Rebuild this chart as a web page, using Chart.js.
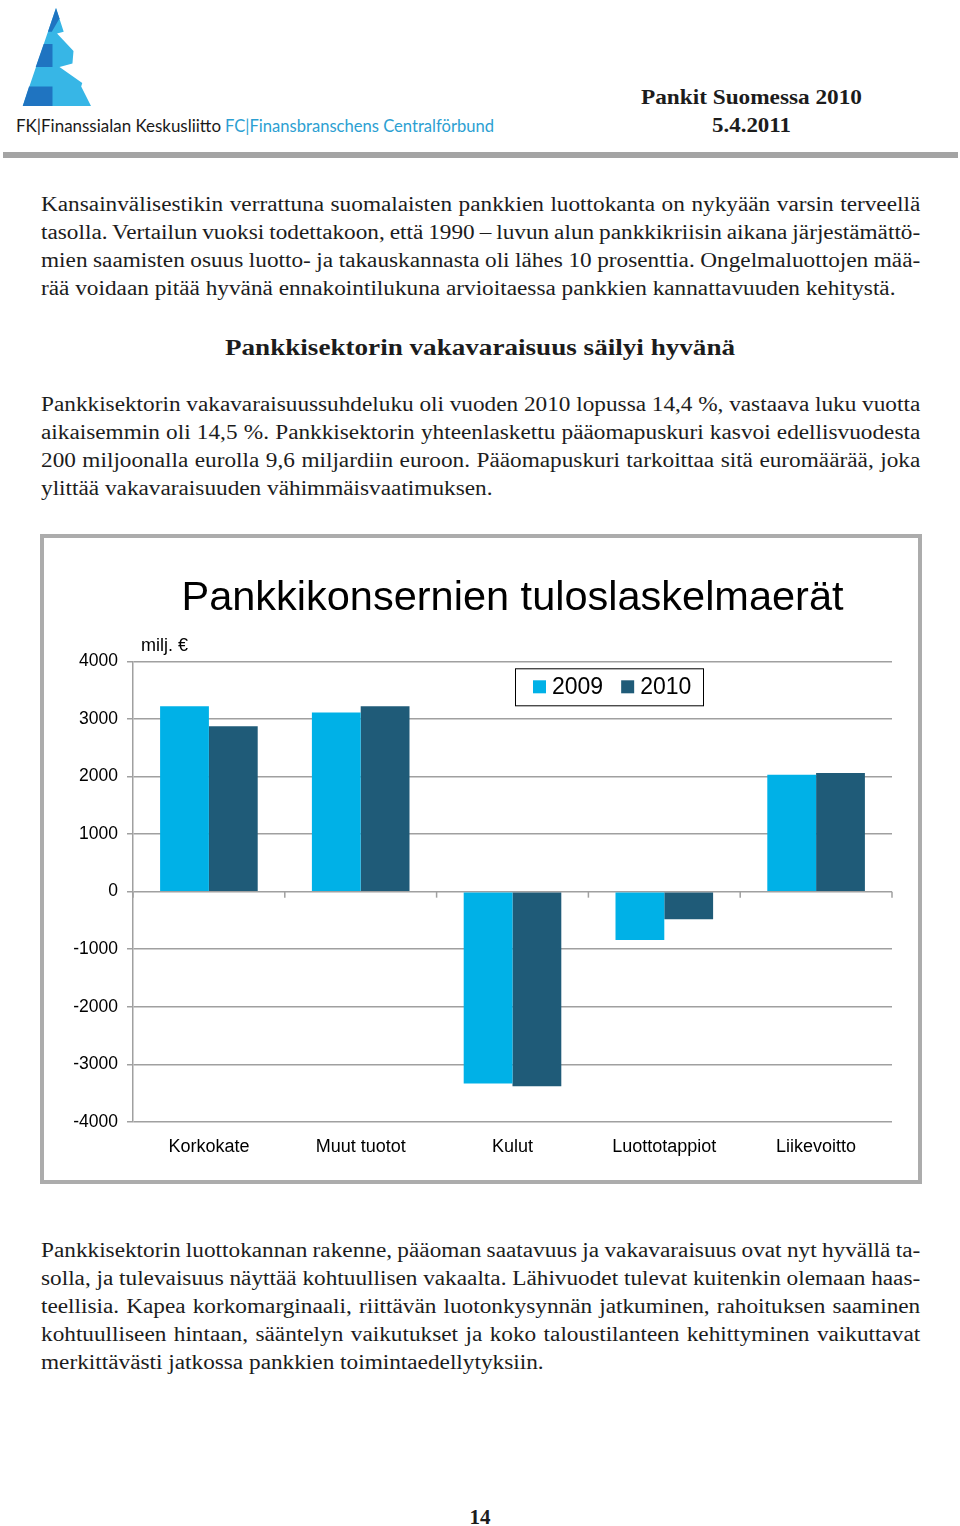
<!DOCTYPE html>
<html><head><meta charset="utf-8">
<script src="https://cdn.jsdelivr.net/npm/chart.js@4.4.1/dist/chart.umd.min.js"></script>
<style>
html,body{margin:0;padding:0;background:#fff;}
body{width:960px;height:1526px;position:relative;overflow:hidden;font-family:'Liberation Serif','Times New Roman',serif;color:#1c1c1c;}
.ln{position:absolute;left:41px;width:756px;height:28px;line-height:28px;font-size:20px;white-space:nowrap;transform:scaleX(1.163);transform-origin:0 0;}
.j{text-align:justify;text-align-last:justify;word-spacing:-2.5px;}
.h2{position:absolute;left:0;width:960px;text-align:center;font-weight:bold;font-size:24px;line-height:30px;transform:scaleX(1.13);transform-origin:480px 0;}
#bar{position:absolute;left:3px;top:152px;width:955px;height:6px;background:#a4a4a4;}
#box{position:absolute;left:40px;top:534px;width:874px;height:642px;border:4px solid #acacac;background:#fff;}
#c{position:absolute;left:0;top:0;}
.pg{position:absolute;left:0;width:960px;text-align:center;font-weight:bold;font-size:21px;top:1504px;line-height:26px;}
</style></head>
<body>
<svg width="960" height="150" style="position:absolute;left:0;top:0">
  <g transform="translate(7,-2) scale(0.35,0.354)">
    <polygon fill="#37b6e6" points="140,28 162,95 143,100 190,150 187,185 150,195 215,240 212,250 240,305 45,305"/>
    <polygon fill="#1f74c1" points="140,28 150,58 128,95 117,95"/>
    <polygon fill="#1f74c1" points="105,130 130,130 130,195 82,195"/>
    <polygon fill="#1f74c1" points="63,250 130,250 130,305 45,305"/>
  </g>
  <text x="16" y="132" font-family="Lato, 'Open Sans', sans-serif" font-size="16.5" fill="#1a1a1a" textLength="205" lengthAdjust="spacingAndGlyphs">FK|Finanssialan Keskusliitto</text>
  <text x="225" y="132" font-family="Lato, 'Open Sans', sans-serif" font-size="16.5" fill="#2c9fd2" textLength="269" lengthAdjust="spacingAndGlyphs">FC|Finansbranschens Centralförbund</text>
  <text x="641" y="104" font-family="'Liberation Serif', serif" font-weight="bold" font-size="22" fill="#1c1c1c" textLength="221" lengthAdjust="spacingAndGlyphs">Pankit Suomessa 2010</text>
  <text x="712" y="132" font-family="'Liberation Serif', serif" font-weight="bold" font-size="22" fill="#1c1c1c" textLength="79" lengthAdjust="spacingAndGlyphs">5.4.2011</text>
</svg>
<div id="bar"></div>

<div class="ln j" style="top:190px">Kansainvälisestikin verrattuna suomalaisten pankkien luottokanta on nykyään varsin terveellä</div>
<div class="ln j" style="top:218px">tasolla. Vertailun vuoksi todettakoon, että 1990 – luvun alun pankkikriisin aikana järjestämättö-</div>
<div class="ln j" style="top:246px">mien saamisten osuus luotto- ja takauskannasta oli lähes 10 prosenttia. Ongelmaluottojen mää-</div>
<div class="ln" style="top:274px">rää voidaan pitää hyvänä ennakointilukuna arvioitaessa pankkien kannattavuuden kehitystä.</div>

<div class="h2" style="top:332px">Pankkisektorin vakavaraisuus säilyi hyvänä</div>

<div class="ln j" style="top:390px">Pankkisektorin vakavaraisuussuhdeluku oli vuoden 2010 lopussa 14,4 %, vastaava luku vuotta</div>
<div class="ln j" style="top:418px">aikaisemmin oli 14,5 %. Pankkisektorin yhteenlaskettu pääomapuskuri kasvoi edellisvuodesta</div>
<div class="ln j" style="top:446px">200 miljoonalla eurolla 9,6 miljardiin euroon. Pääomapuskuri tarkoittaa sitä euromäärää, joka</div>
<div class="ln" style="top:474px">ylittää vakavaraisuuden vähimmäisvaatimuksen.</div>

<div id="box"><canvas id="c" width="874" height="642"></canvas></div>

<div class="ln j" style="top:1236px">Pankkisektorin luottokannan rakenne, pääoman saatavuus ja vakavaraisuus ovat nyt hyvällä ta-</div>
<div class="ln j" style="top:1264px">solla, ja tulevaisuus näyttää kohtuullisen vakaalta. Lähivuodet tulevat kuitenkin olemaan haas-</div>
<div class="ln j" style="top:1292px">teellisia. Kapea korkomarginaali, riittävän luotonkysynnän jatkuminen, rahoituksen saaminen</div>
<div class="ln j" style="top:1320px">kohtuulliseen hintaan, sääntelyn vaikutukset ja koko taloustilanteen kehittyminen vaikuttavat</div>
<div class="ln" style="top:1348px">merkittävästi jatkossa pankkien toimintaedellytyksiin.</div>

<div class="pg">14</div>

<script>
const categories = ['Korkokate', 'Muut tuotot', 'Kulut', 'Luottotappiot', 'Liikevoitto'];
const values2009 = [3220, 3110, -3330, -840, 2030];
const values2010 = [2870, 3220, -3380, -480, 2060];
const seriesNames = ['2009', '2010'];
const seriesColors = ['#00b1e7', '#1f5b78'];
const yMin = -4000, yMax = 4000, yStep = 1000;
const chartTitle = 'Pankkikonsernien tuloslaskelmaerät';
const unitLabel = 'milj. €';

const FONT = "'Liberation Sans', Arial, sans-serif";
const GRID = '#a0a0a0';

const extras = {
  id: 'extras',
  beforeDatasetsDraw(chart) {
    const { ctx, chartArea, scales: { x, y } } = chart;
    const y0 = y.getPixelForValue(0);
    const n = categories.length;
    ctx.save();
    ctx.strokeStyle = GRID; ctx.lineWidth = 1.5;
    for (let i = 0; i <= n; i++) {
      let px;
      if (i === 0) px = chartArea.left;
      else if (i === n) px = chartArea.right;
      else px = (x.getPixelForValue(i - 1) + x.getPixelForValue(i)) / 2;
      ctx.beginPath(); ctx.moveTo(px, y0); ctx.lineTo(px, y0 + 6); ctx.stroke();
    }
    ctx.restore();
  },
  afterDraw(chart) {
    const { ctx, chartArea } = chart;
    ctx.save();
    ctx.font = '18px ' + FONT;
    ctx.fillStyle = '#000';
    ctx.textBaseline = 'middle';
    ctx.textAlign = 'left';
    ctx.fillText(unitLabel, chartArea.left + 8, chartArea.top - 15);
    const bx = chartArea.left + 382, by = chartArea.top + 7, bw = 188, bh = 37;
    ctx.fillStyle = '#fff';
    ctx.fillRect(bx, by, bw, bh);
    ctx.strokeStyle = '#000'; ctx.lineWidth = 1;
    ctx.strokeRect(bx + 0.5, by + 0.5, bw, bh);
    ctx.font = '23px ' + FONT;
    let cx = bx + 18;
    chart.data.datasets.forEach(ds => {
      ctx.fillStyle = ds.backgroundColor;
      ctx.fillRect(cx, by + 12, 13, 13);
      ctx.fillStyle = '#000';
      ctx.fillText(ds.label, cx + 19, by + 19.5);
      cx += 19 + ctx.measureText(ds.label).width + 18;
    });
    ctx.restore();
  }
};

new Chart(document.getElementById('c'), {
  type: 'bar',
  data: {
    labels: categories,
    datasets: [
      { label: seriesNames[0], data: values2009, backgroundColor: seriesColors[0], borderWidth: 0, categoryPercentage: 0.643, barPercentage: 1 },
      { label: seriesNames[1], data: values2010, backgroundColor: seriesColors[1], borderWidth: 0, categoryPercentage: 0.643, barPercentage: 1 }
    ]
  },
  options: {
    responsive: false,
    devicePixelRatio: 1,
    animation: false,
    layout: { padding: { left: 0, right: 26, top: 0, bottom: 0 } },
    plugins: {
      legend: { display: false },
      tooltip: { enabled: false },
      title: {
        display: true, text: chartTitle, fullSize: false, color: '#000',
        font: { family: FONT, size: 41.5, weight: 'normal' },
        padding: { top: 36, bottom: 37.5 }
      }
    },
    scales: {
      x: {
        grid: { display: false, drawTicks: false },
        border: { display: false },
        ticks: { color: '#000', font: { family: FONT, size: 18 }, padding: 14, maxRotation: 0 },
        afterFit(s) { s.height = 58; }
      },
      y: {
        min: yMin, max: yMax,
        grid: { color: GRID, lineWidth: 1.5, tickLength: 6, drawTicks: true },
        border: { display: true, color: GRID, width: 1.5 },
        ticks: { stepSize: yStep, color: '#000', font: { family: FONT, size: 17.5 }, padding: 9, callback: v => String(v) },
        afterFit(s) { s.width = 89; }
      }
    }
  },
  plugins: [extras]
});
</script>
</body></html>
